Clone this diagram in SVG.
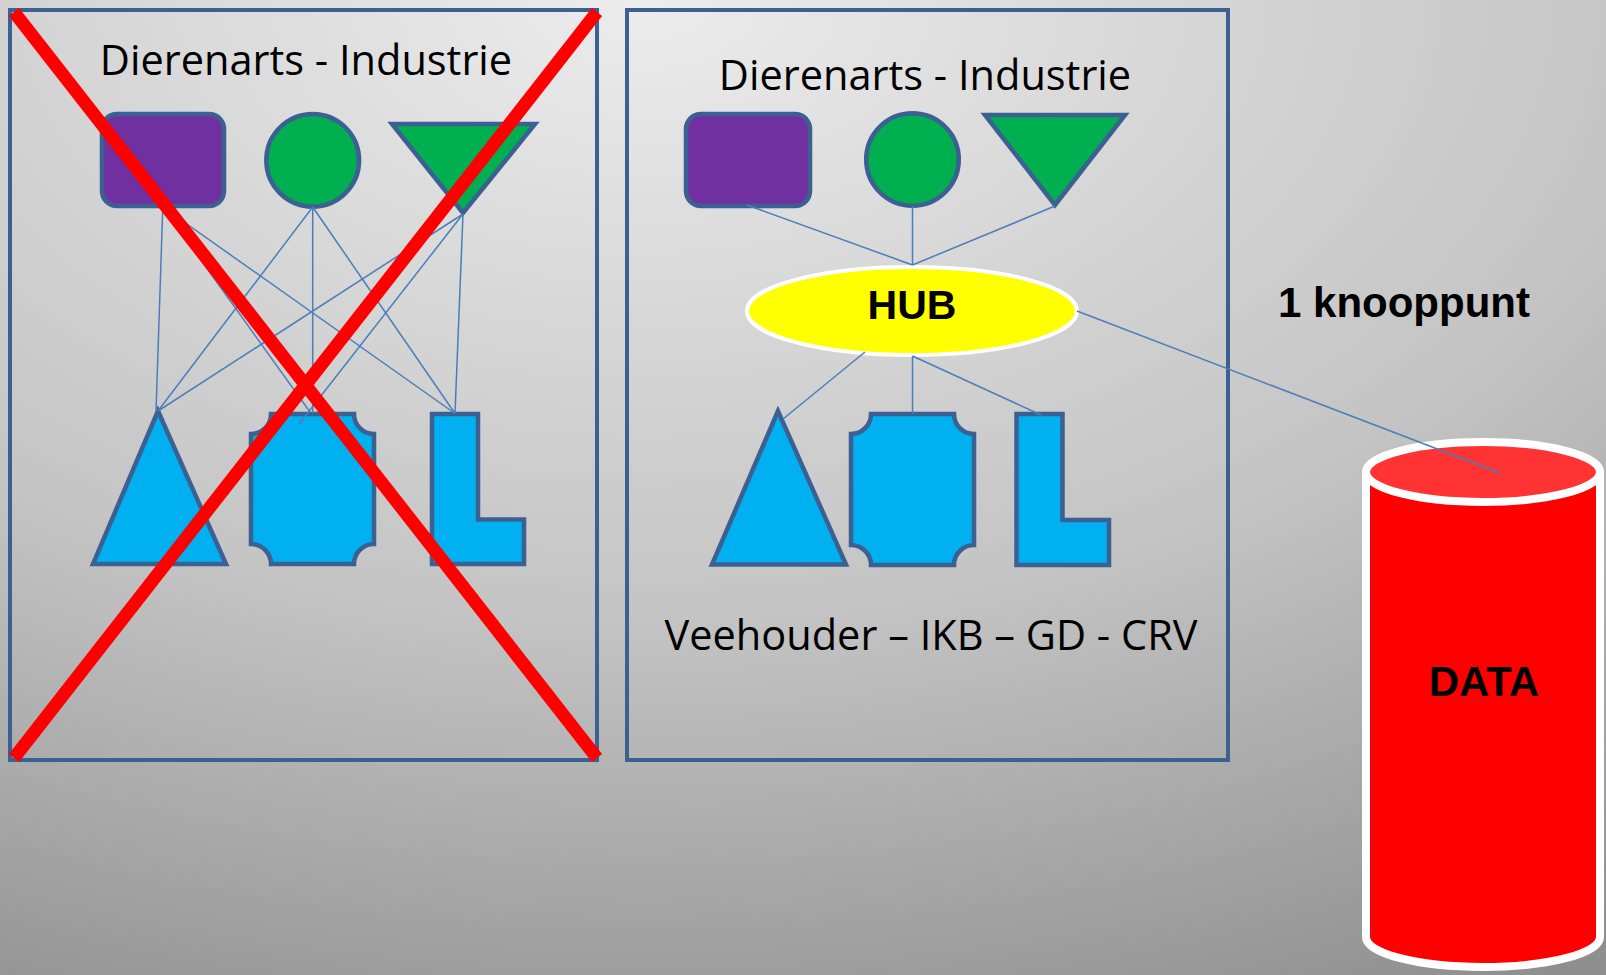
<svg xmlns="http://www.w3.org/2000/svg" width="1606" height="975" viewBox="0 0 1606 975">
<defs>
<radialGradient id="bg" cx="0.4" cy="0" r="1.15" fx="0.4" fy="0">
<stop offset="0" stop-color="#ececec"/>
<stop offset="0.55" stop-color="#c4c4c4"/>
<stop offset="1" stop-color="#8e8e8e"/>
</radialGradient>
<style>
.frame{fill:none;stroke:#3b6091;stroke-width:4}
.shp{stroke:#3b6091;stroke-width:4.5;stroke-linejoin:miter}
.purple{fill:#7030a0}
.green{fill:#00b050}
.blue{fill:#00b0f0}
.con{stroke:#4a7ebb;stroke-width:1.5;fill:none}
.title{font-family:"Open Sans","Liberation Sans",sans-serif;font-size:41.5px;fill:#000;text-anchor:middle}
.bold{font-family:"Liberation Sans","Open Sans",sans-serif;font-weight:bold;fill:#000;text-anchor:middle}
.cross{stroke:#ff0000;stroke-width:13;stroke-linecap:butt}
</style>
</defs>
<rect x="0" y="0" width="1606" height="975" fill="url(#bg)"/>

<g id="left-panel">
<rect class="frame" x="10" y="10" width="587" height="750"/>
<text class="title" x="306" y="75">Dierenarts - Industrie</text>
</g>
<g id="right-panel">
<rect class="frame" x="627" y="10" width="601" height="750"/>
<text class="title" x="925" y="90">Dierenarts - Industrie</text>
<text class="title" x="931" y="650" font-size="42.5">Veehouder – IKB – GD - CRV</text>
</g>

<g id="L-purple"><rect class="shp purple" x="102" y="114" width="122" height="92" rx="15"/></g>
<g id="L-circle"><circle class="shp green" cx="312.7" cy="160.3" r="46.4"/></g>
<g id="L-vtri"><polygon class="shp green" points="392,124 535,124 463,213"/></g>
<g id="L-tri"><polygon class="shp blue" points="158,411 93,564 226,564"/></g>
<g id="L-plaque"><path class="shp blue" d="M271,414 H354 A20 20 0 0 0 374,434 V544 A20 20 0 0 0 354,564 H271 A20 20 0 0 0 251,544 V434 A20 20 0 0 0 271,414 Z"/></g>
<g id="L-ell"><path class="shp blue" d="M432,414 H478 V519.5 H524 V564 H432 Z"/></g>

<g id="R-purple"><rect class="shp purple" x="686" y="114" width="124" height="92" rx="15"/></g>
<g id="R-circle"><circle class="shp green" cx="912.5" cy="159.5" r="46.3"/></g>
<g id="R-vtri"><polygon class="shp green" points="985,115 1125,115 1055,205"/></g>
<g id="R-tri"><polygon class="shp blue" points="778,411 712,564.5 846,564.5"/></g>
<g id="R-plaque"><path class="shp blue" d="M871,414 H954 A20 20 0 0 0 974,434 V545 A20 20 0 0 0 954,565 H871 A20 20 0 0 0 851,545 V434 A20 20 0 0 0 871,414 Z"/></g>
<g id="R-ell"><path class="shp blue" d="M1016.5,414 H1062.5 V520 H1109 V565 H1016.5 Z"/></g>

<g id="hub">
<ellipse cx="912" cy="311" rx="165" ry="44" fill="#ffff00" stroke="#ffffff" stroke-width="4"/>
<text class="bold" x="912" y="319" font-size="41">HUB</text>
</g>

<g id="data">
<path d="M1366,472 V937 A117 30 0 0 0 1600,937 V472 Z" fill="#ff0000" stroke="#ffffff" stroke-width="8" stroke-linejoin="round"/>
<ellipse cx="1483" cy="472" rx="117" ry="30" fill="#ff3333" stroke="#ffffff" stroke-width="8"/>
<text class="bold" x="1484" y="696" font-size="42">DATA</text>
</g>

<g id="label-knooppunt">
<text class="bold" x="1404" y="317" font-size="42">1 knooppunt</text>
</g>

<g id="connectors">
<line class="con" x1="162.8" y1="207" x2="156" y2="411.5"/>
<line class="con" x1="162.8" y1="207" x2="310" y2="412"/>
<line class="con" x1="162.8" y1="207" x2="455" y2="413.5"/>
<line class="con" x1="312.7" y1="207" x2="158" y2="411"/>
<line class="con" x1="312.7" y1="207" x2="312.7" y2="413.5"/>
<line class="con" x1="312.7" y1="207" x2="455" y2="413.5"/>
<line class="con" x1="463" y1="214" x2="158" y2="411"/>
<line class="con" x1="463" y1="214" x2="299" y2="424"/>
<line class="con" x1="463" y1="214" x2="455" y2="413.5"/>
<line class="con" x1="747" y1="205" x2="912.5" y2="265"/>
<line class="con" x1="912.5" y1="206" x2="912.5" y2="265"/>
<line class="con" x1="1055" y1="206" x2="912.5" y2="265"/>
<line class="con" x1="865" y1="352" x2="783" y2="419"/>
<line class="con" x1="912.5" y1="356" x2="912.5" y2="414"/>
<line class="con" x1="912.5" y1="356" x2="1041" y2="415"/>
<line class="con" x1="1077" y1="311" x2="1500" y2="473"/>
</g>

<g id="cross">
<line class="cross" x1="14" y1="12" x2="597" y2="758"/>
<line class="cross" x1="597" y1="12" x2="14" y2="758"/>
</g>
</svg>
